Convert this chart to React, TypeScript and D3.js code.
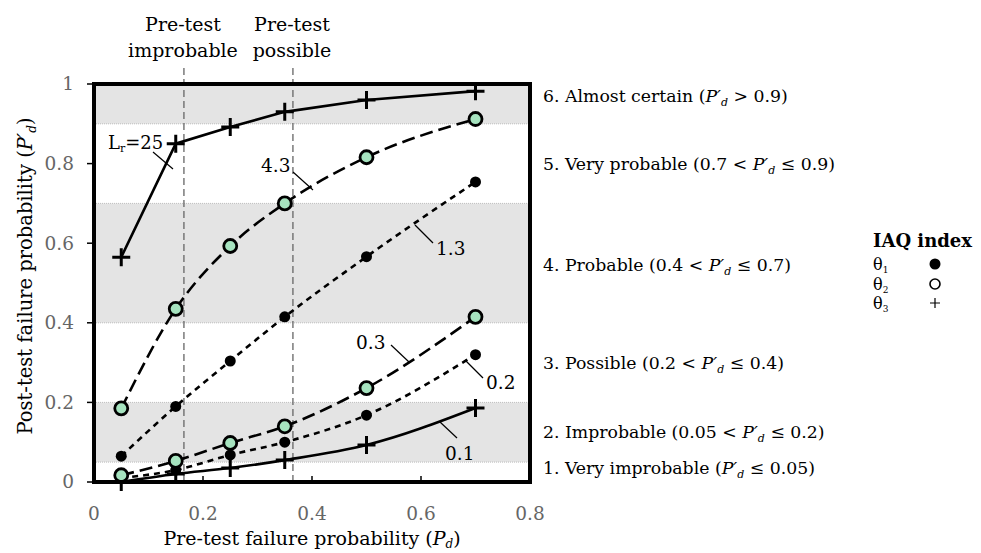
import React, { useEffect, useRef } from 'react';
import * as d3 from 'd3';

// pre-test probabilities (x) shared by every curve
const preTest = [0.05, 0.15, 0.25, 0.35, 0.5, 0.7];

// post-test probabilities, one array per likelihood ratio
const lr25 = [0.565, 0.85, 0.892, 0.93, 0.96, 0.982];
const lr43 = [0.185, 0.435, 0.593, 0.7, 0.816, 0.912];
const lr13 = [0.065, 0.19, 0.304, 0.415, 0.566, 0.754];
const lr03 = [0.017, 0.053, 0.098, 0.14, 0.236, 0.415];
const lr02 = [0.01, 0.03, 0.068, 0.1, 0.168, 0.32];
const lr01 = [0.0, 0.02, 0.035, 0.055, 0.093, 0.186];

const xTicks = [0, 0.2, 0.4, 0.6, 0.8];
const yTicks = [0, 0.2, 0.4, 0.6, 0.8, 1];
const greyBands = [[0.9, 1], [0.4, 0.7], [0.05, 0.2]];
const bandLines = [0.05, 0.2, 0.4, 0.7, 0.9];
const preTestCuts = [0.165, 0.365];

const classLabels = [
  { y: 0.97, pre: '6. Almost certain (', post: ' > 0.9)' },
  { y: 0.8, pre: '5. Very probable (0.7 < ', post: ' ≤ 0.9)' },
  { y: 0.545, pre: '4. Probable (0.4 < ', post: ' ≤ 0.7)' },
  { y: 0.3, pre: '3. Possible (0.2 < ', post: ' ≤ 0.4)' },
  { y: 0.125, pre: '2. Improbable (0.05 < ', post: ' ≤ 0.2)' },
  { y: 0.035, pre: '1. Very improbable (', post: ' ≤ 0.05)' },
];

const FONT = "'DejaVu Serif', 'Liberation Serif', serif";

const App = () => {
  const ref = useRef(null);

  useEffect(() => {
    const svg = d3.select(ref.current);
    svg.selectAll('*').remove();

    const x = d3.scaleLinear().domain([0, 0.8]).range([94, 530]);
    const y = d3.scaleLinear().domain([0, 1]).range([482, 84]);

    const g = svg.append('g').style('font-family', FONT);

    // shaded probability classes
    greyBands.forEach(([a, b]) => {
      g.append('rect')
        .attr('x', x(0)).attr('width', x(0.8) - x(0))
        .attr('y', y(b)).attr('height', y(a) - y(b))
        .attr('fill', '#e4e4e4');
    });
    bandLines.forEach(v => {
      g.append('line')
        .attr('x1', x(0)).attr('x2', x(0.8))
        .attr('y1', y(v)).attr('y2', y(v))
        .attr('stroke', '#bdbdbd').attr('stroke-width', 1)
        .attr('stroke-dasharray', '1,1');
    });

    // pre-test cut lines
    preTestCuts.forEach(v => {
      g.append('line')
        .attr('x1', x(v)).attr('x2', x(v))
        .attr('y1', 68).attr('y2', y(0))
        .attr('stroke', '#666').attr('stroke-width', 1.3)
        .attr('stroke-dasharray', '7,4');
    });

    // axis ticks + labels
    yTicks.forEach(v => {
      g.append('line')
        .attr('x1', x(0) - 7).attr('x2', x(0))
        .attr('y1', y(v)).attr('y2', y(v))
        .attr('stroke', '#000').attr('stroke-width', 1.5);
      g.append('text')
        .attr('x', 74).attr('y', y(v)).attr('dy', '0.35em')
        .attr('text-anchor', 'end').attr('font-size', 18.5).attr('fill', '#666')
        .text(String(v));
    });
    xTicks.forEach(v => {
      g.append('line')
        .attr('x1', x(v)).attr('x2', x(v))
        .attr('y1', y(0) - 6).attr('y2', y(0))
        .attr('stroke', '#000').attr('stroke-width', 1.5);
      g.append('text')
        .attr('x', x(v)).attr('y', 514).attr('dy', '0.35em')
        .attr('text-anchor', 'middle').attr('font-size', 18.5).attr('fill', '#666')
        .text(String(v));
    });

    const series = [
      { vals: lr01, marker: 'plus', dash: null, curve: d3.curveMonotoneX },
      { vals: lr02, marker: 'dot', dash: '6,5', curve: d3.curveMonotoneX },
      { vals: lr03, marker: 'ring', dash: '13,6', curve: d3.curveMonotoneX },
      { vals: lr13, marker: 'dot', dash: '6,5', curve: d3.curveMonotoneX },
      { vals: lr43, marker: 'ring', dash: '13,6', curve: d3.curveMonotoneX },
      { vals: lr25, marker: 'plus', dash: null, curve: d3.curveLinear },
    ];

    series.forEach(s => {
      const line = d3.line<number>()
        .x((_, i) => x(preTest[i]))
        .y(d => y(d))
        .curve(s.curve);
      g.append('path')
        .attr('d', line(s.vals))
        .attr('fill', 'none').attr('stroke', '#000').attr('stroke-width', 2.6)
        .attr('stroke-dasharray', s.dash);
    });

    series.forEach(s => {
      s.vals.forEach((v, i) => {
        const cx = x(preTest[i]);
        const cy = y(v);
        if (s.marker === 'dot') {
          g.append('circle').attr('cx', cx).attr('cy', cy).attr('r', 5.5).attr('fill', '#000');
        } else if (s.marker === 'ring') {
          g.append('circle').attr('cx', cx).attr('cy', cy).attr('r', 6.5)
            .attr('fill', '#a6e3bf').attr('stroke', '#000').attr('stroke-width', 2.8);
        } else {
          g.append('path')
            .attr('d', `M${cx - 9},${cy}H${cx + 9}M${cx},${cy - 9}V${cy + 9}`)
            .attr('stroke', '#000').attr('stroke-width', 3);
        }
      });
    });

    // frame
    g.append('rect')
      .attr('x', x(0)).attr('y', y(1))
      .attr('width', x(0.8) - x(0)).attr('height', y(0) - y(1))
      .attr('fill', 'none').attr('stroke', '#000').attr('stroke-width', 4);

    // curve labels with leaders
    const leader = (x1, y1, x2, y2) =>
      g.append('line').attr('x1', x1).attr('y1', y1).attr('x2', x2).attr('y2', y2)
        .attr('stroke', '#000').attr('stroke-width', 1.2);

    const lrText = g.append('text').attr('x', 108).attr('y', 149).attr('font-size', 18);
    lrText.append('tspan').text('L');
    lrText.append('tspan').attr('font-size', 11).attr('dy', 3).text('r');
    lrText.append('tspan').attr('dy', -3).text('=25');
    leader(153, 152, 173, 169);

    const curveLabels = [
      { t: '4.3', x: 261, y: 172 },
      { t: '1.3', x: 436, y: 255 },
      { t: '0.3', x: 356, y: 349 },
      { t: '0.2', x: 486, y: 389 },
      { t: '0.1', x: 445, y: 460 },
    ];
    curveLabels.forEach(c => {
      g.append('text').attr('x', c.x).attr('y', c.y).attr('font-size', 18.5).text(c.t);
    });
    leader(293, 172, 313, 190);
    leader(415, 225, 433, 243);
    leader(391, 345, 409, 362);
    leader(465, 360, 483, 378);
    leader(440, 422, 457, 438);

    // header over the cut lines
    [['Pre-test', 'improbable', 183], ['Pre-test', 'possible', 292]].forEach(([a, b, cx]) => {
      g.append('text').attr('x', cx).attr('y', 31).attr('text-anchor', 'middle')
        .attr('font-size', 19).text(a as string);
      g.append('text').attr('x', cx).attr('y', 57).attr('text-anchor', 'middle')
        .attr('font-size', 19).text(b as string);
    });

    // class labels on the right
    classLabels.forEach(c => {
      const t = g.append('text').attr('x', 543).attr('y', y(c.y)).attr('dy', '0.35em')
        .attr('font-size', 17.3);
      t.append('tspan').text(c.pre);
      t.append('tspan').attr('font-style', 'italic').text('P′');
      t.append('tspan').attr('font-style', 'italic').attr('font-size', 11).attr('dy', 4).text('d');
      t.append('tspan').attr('dy', -4).text(c.post);
    });

    // legend
    g.append('text').attr('x', 873).attr('y', 241).attr('dy', '0.35em')
      .attr('font-size', 18).attr('font-weight', 'bold').text('IAQ index');
    const legendRows = [['1', 'dot', 264], ['2', 'ring', 284], ['3', 'plus', 303]];
    legendRows.forEach(([n, m, ly]) => {
      const t = g.append('text').attr('x', 873).attr('y', ly as number).attr('dy', '0.35em')
        .attr('font-size', 16);
      t.append('tspan').text('θ');
      t.append('tspan').attr('font-size', 9).attr('dy', 3).text(n as string);
      const cx = 935;
      const cy = ly as number;
      if (m === 'dot') {
        g.append('circle').attr('cx', cx).attr('cy', cy).attr('r', 5.5).attr('fill', '#000');
      } else if (m === 'ring') {
        g.append('circle').attr('cx', cx).attr('cy', cy).attr('r', 5)
          .attr('fill', '#fff').attr('stroke', '#000').attr('stroke-width', 1.6);
      } else {
        g.append('path').attr('d', `M${cx - 5},${cy}H${cx + 5}M${cx},${cy - 5}V${cy + 5}`)
          .attr('stroke', '#000').attr('stroke-width', 1.2);
      }
    });

    // axis titles
    const xt = g.append('text').attr('x', 312).attr('y', 538).attr('dy', '0.35em')
      .attr('text-anchor', 'middle').attr('font-size', 19);
    xt.append('tspan').text('Pre-test failure probability (');
    xt.append('tspan').attr('font-style', 'italic').text('P');
    xt.append('tspan').attr('font-style', 'italic').attr('font-size', 12).attr('dy', 3).text('d');
    xt.append('tspan').attr('dy', -3).text(')');

    const yt = g.append('text')
      .attr('transform', 'translate(25,276) rotate(-90)')
      .attr('text-anchor', 'middle').attr('dy', '0.35em').attr('font-size', 19.5);
    yt.append('tspan').text('Post-test failure probability (');
    yt.append('tspan').attr('font-style', 'italic').text('P′');
    yt.append('tspan').attr('font-style', 'italic').attr('font-size', 12).attr('dy', 4).text('d');
    yt.append('tspan').attr('dy', -4).text(')');
  }, []);

  return (
    <svg
      ref={ref}
      width={981}
      height={553}
      style={{ position: 'absolute', left: 0, top: 0, background: '#fff' }}
    />
  );
};

export default App;
